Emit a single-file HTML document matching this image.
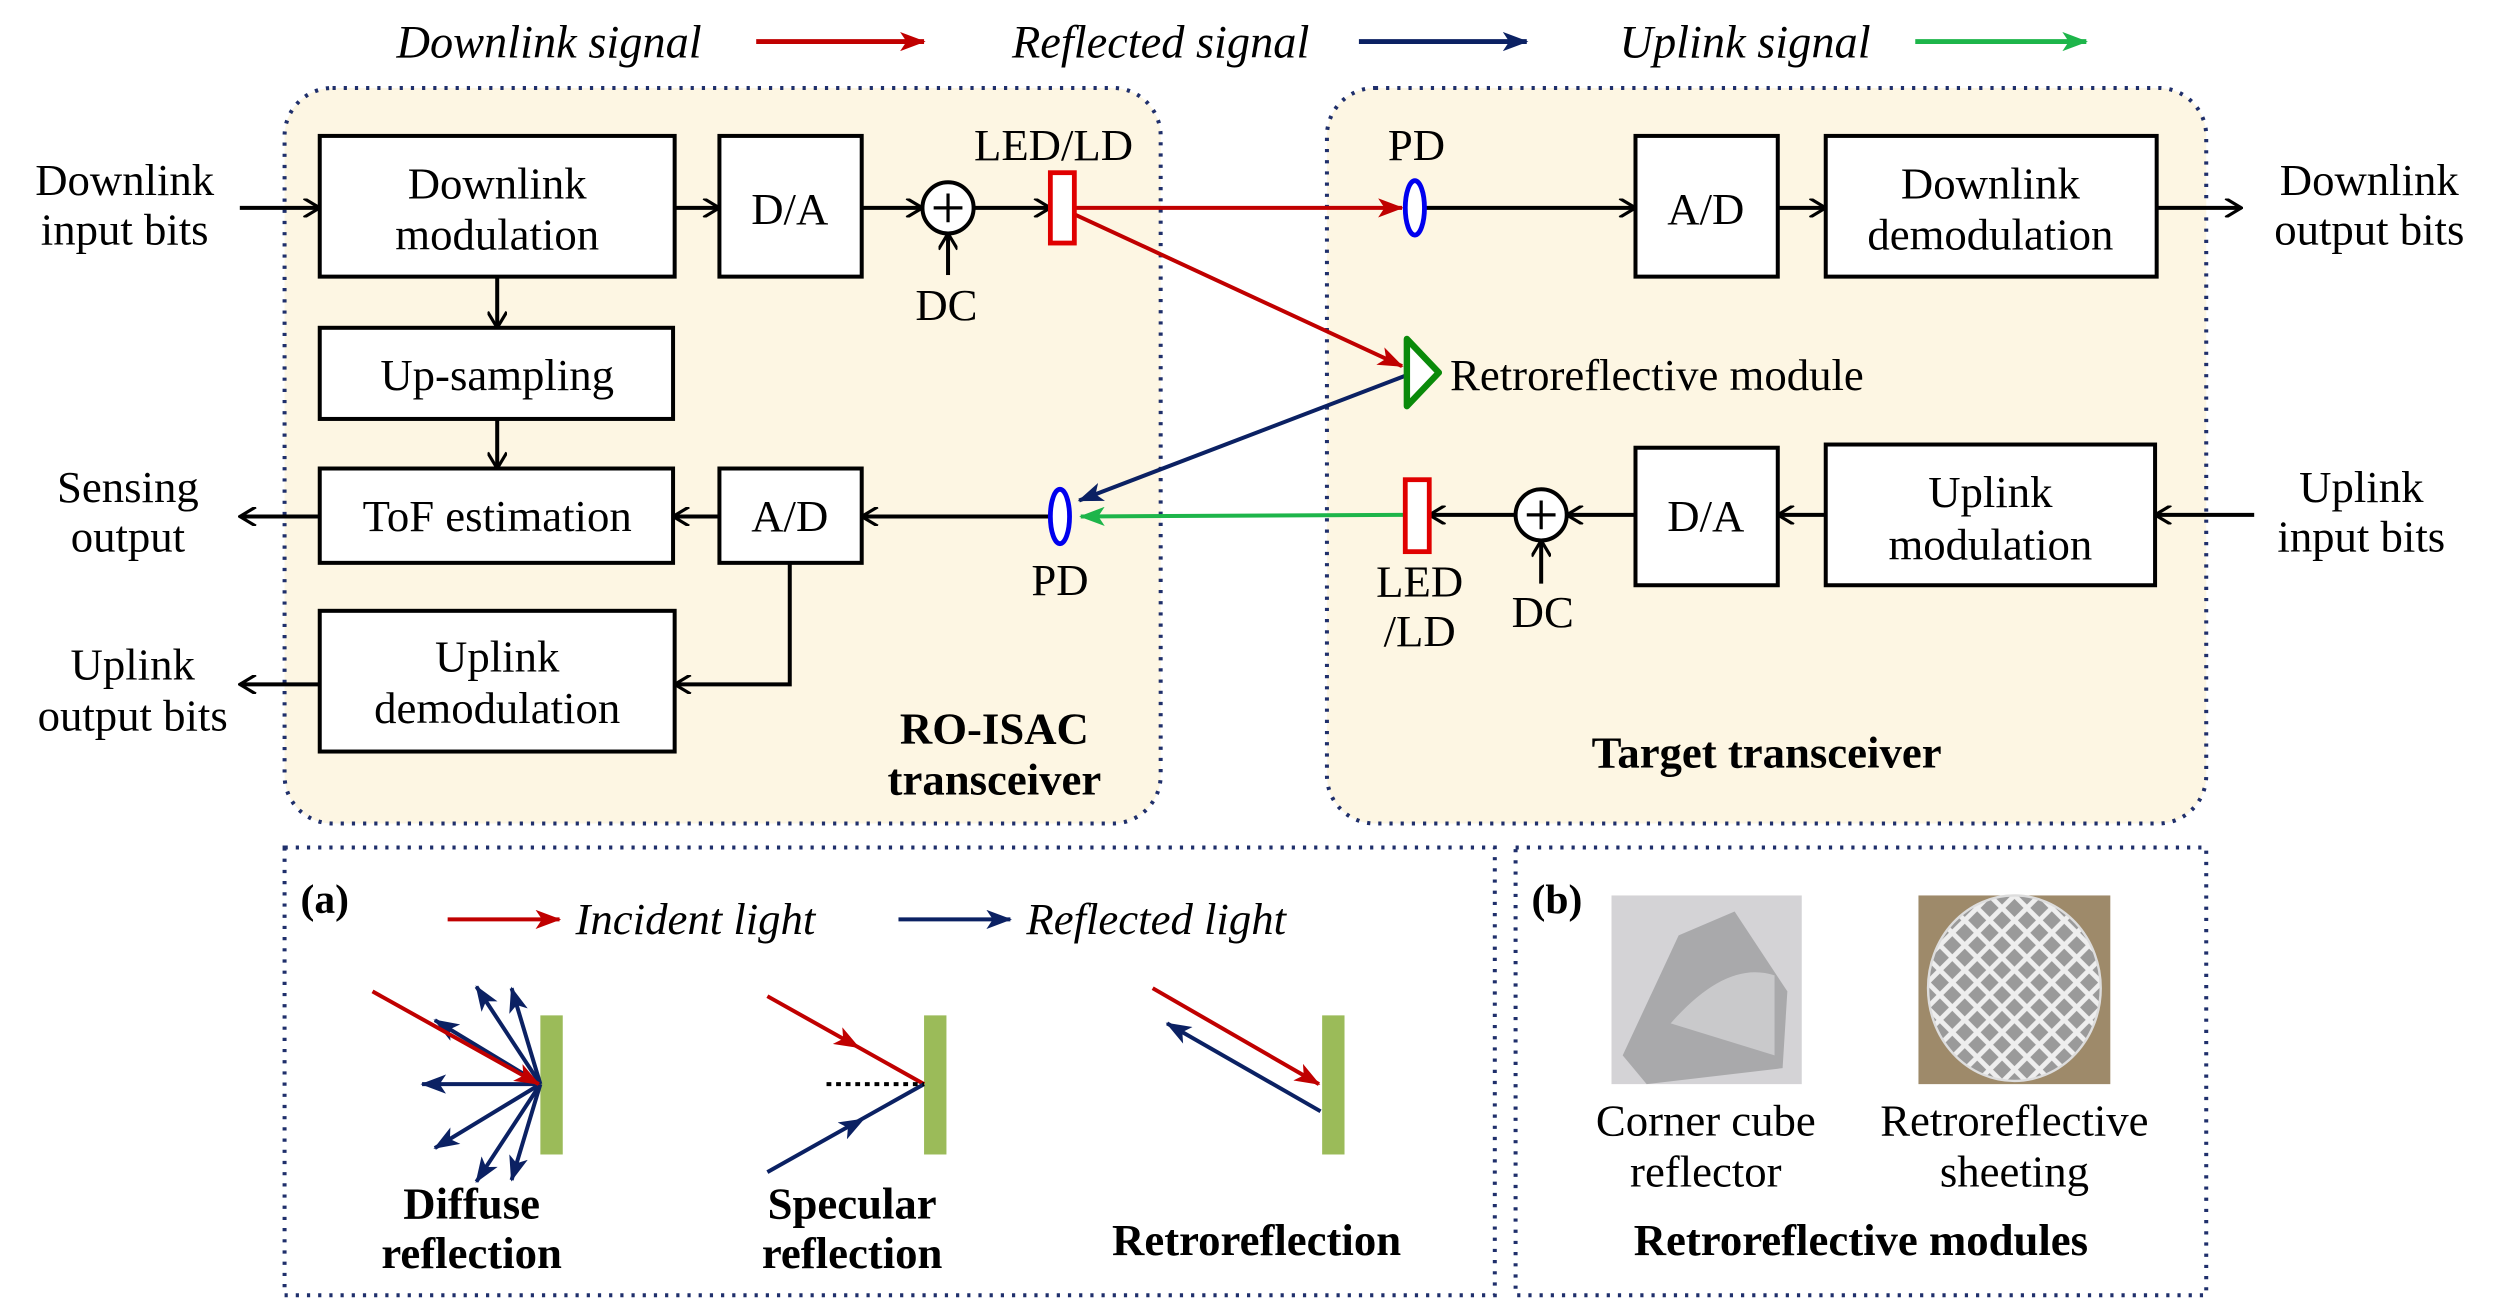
<!DOCTYPE html>
<html><head><meta charset="utf-8"><style>html,body{margin:0;padding:0;background:#fff}svg{display:block}svg text{font-family:"Liberation Serif","Times New Roman",serif}</style></head>
<body>
<svg width="2494" height="1300" viewBox="0 0 1560 813" preserveAspectRatio="none" xmlns="http://www.w3.org/2000/svg" style="font-family:'Liberation Serif',serif">
<defs>
<marker id="ob" viewBox="0 0 12 12" refX="11" refY="6" markerWidth="12" markerHeight="12" markerUnits="userSpaceOnUse" orient="auto"><path d="M1,0 L11,6 L1,12" fill="none" stroke="#000" stroke-width="2"/></marker>
<marker id="ar" viewBox="0 0 16 12" refX="15" refY="6" markerWidth="16" markerHeight="12" markerUnits="userSpaceOnUse" orient="auto"><path d="M0,0 L16,6 L0,12 L4,6z" fill="#c00000"/></marker>
<marker id="an" viewBox="0 0 16 12" refX="15" refY="6" markerWidth="16" markerHeight="12" markerUnits="userSpaceOnUse" orient="auto"><path d="M0,0 L16,6 L0,12 L4,6z" fill="#0b2163"/></marker>
<marker id="ag" viewBox="0 0 16 12" refX="15" refY="6" markerWidth="16" markerHeight="12" markerUnits="userSpaceOnUse" orient="auto"><path d="M0,0 L16,6 L0,12 L4,6z" fill="#1db54a"/></marker>
<pattern id="grid" width="11" height="11" patternUnits="userSpaceOnUse" patternTransform="rotate(45)"><rect width="11" height="11" fill="#eee"/><rect x="1.5" y="1.5" width="8" height="8" fill="#9a9a9a"/></pattern>
</defs>

<g font-style="italic" font-size="29">
<text x="248" y="36">Downlink signal</text>
<text x="633" y="36">Reflected signal</text>
<text x="1013" y="36">Uplink signal</text>
</g>
<line x1="473" y1="26" x2="578" y2="26" stroke="#c00000" stroke-width="3" marker-end="url(#ar)"/>
<line x1="850" y1="26" x2="955" y2="26" stroke="#0b2163" stroke-width="3" marker-end="url(#an)"/>
<line x1="1198" y1="26" x2="1305" y2="26" stroke="#1db54a" stroke-width="3" marker-end="url(#ag)"/>

<g stroke="#1f2f6b" stroke-width="2.5" stroke-dasharray="2 5" fill="#fdf6e3">
<rect x="178" y="55" width="548" height="460" rx="30"/>
<rect x="830" y="55" width="550" height="460" rx="30"/>
<rect x="178" y="530" width="757" height="280" fill="none"/>
<rect x="948" y="530" width="432" height="280" fill="none"/>
</g>

<g fill="#fff" stroke="#000" stroke-width="2.5">
<rect x="200" y="85" width="222" height="88"/>
<rect x="450" y="85" width="89" height="88"/>
<rect x="200" y="205" width="221" height="57"/>
<rect x="200" y="293" width="221" height="59"/>
<rect x="450" y="293" width="89" height="59"/>
<rect x="200" y="382" width="222" height="88"/>
<rect x="1023" y="85" width="89" height="88"/>
<rect x="1142" y="85" width="207" height="88"/>
<rect x="1023" y="280" width="89" height="86"/>
<rect x="1142" y="278" width="206" height="88"/>
<circle cx="593" cy="130" r="16"/>
<circle cx="964" cy="322" r="16"/>
</g>
<g stroke="#000" stroke-width="2"><path d="M584,130 H602 M593,121 V139"/><path d="M955,322 H973 M964,313 V331"/></g>

<g stroke="#000" stroke-width="2.5" fill="none" marker-end="url(#ob)">
<line x1="150" y1="130" x2="200" y2="130"/>
<line x1="422" y1="130" x2="450" y2="130"/>
<line x1="539" y1="130" x2="577" y2="130"/>
<line x1="609" y1="130" x2="657" y2="130"/>
<line x1="593" y1="172" x2="593" y2="146"/>
<line x1="311" y1="173" x2="311" y2="205"/>
<line x1="311" y1="262" x2="311" y2="293"/>
<line x1="450" y1="323" x2="421" y2="323"/>
<line x1="656" y1="323" x2="539" y2="323"/>
<polyline points="494,352 494,428 422,428"/>
<line x1="200" y1="323" x2="150" y2="323"/>
<line x1="200" y1="428" x2="150" y2="428"/>
<line x1="892" y1="130" x2="1023" y2="130"/>
<line x1="1112" y1="130" x2="1142" y2="130"/>
<line x1="1349" y1="130" x2="1402" y2="130"/>
<line x1="1410" y1="322" x2="1348" y2="322"/>
<line x1="1142" y1="322" x2="1112" y2="322"/>
<line x1="1023" y1="322" x2="980" y2="322"/>
<line x1="948" y1="322" x2="894" y2="322"/>
<line x1="964" y1="365" x2="964" y2="338"/>
</g>

<line x1="672" y1="130" x2="877" y2="130" stroke="#c00000" stroke-width="2.5" marker-end="url(#ar)"/>
<line x1="672" y1="134" x2="877" y2="229" stroke="#c00000" stroke-width="2.5" marker-end="url(#ar)"/>
<line x1="879" y1="235" x2="675" y2="313" stroke="#0b2163" stroke-width="2.5" marker-end="url(#an)"/>
<line x1="879" y1="322" x2="676" y2="323" stroke="#1db54a" stroke-width="2.5" marker-end="url(#ag)"/>

<rect x="657" y="108" width="15" height="44" fill="#fff" stroke="#e00000" stroke-width="3"/>
<rect x="879" y="300" width="15" height="45" fill="#fff" stroke="#e00000" stroke-width="3"/>
<ellipse cx="663" cy="323" rx="6" ry="17" fill="#fff" stroke="#0000ee" stroke-width="3"/>
<ellipse cx="885" cy="130" rx="6" ry="17" fill="#fff" stroke="#0000ee" stroke-width="3"/>
<polygon points="880,212 880,254 900,233" fill="#fff" stroke="#0a8a0a" stroke-width="4" stroke-linejoin="round"/>

<g font-size="28" text-anchor="middle">
<text x="78" y="122">Downlink</text><text x="78" y="153">input bits</text>
<text x="80" y="314">Sensing</text><text x="80" y="345">output</text>
<text x="83" y="425">Uplink</text><text x="83" y="457">output bits</text>
<text x="1482" y="122">Downlink</text><text x="1482" y="153">output bits</text>
<text x="1477" y="314">Uplink</text><text x="1477" y="345">input bits</text>
<text x="311" y="124">Downlink</text><text x="311" y="156">modulation</text>
<text x="494" y="140">D/A</text>
<text x="311" y="244">Up-sampling</text>
<text x="311" y="332">ToF estimation</text>
<text x="494" y="332">A/D</text>
<text x="311" y="420">Uplink</text><text x="311" y="452">demodulation</text>
<text x="659" y="100">LED/LD</text>
<text x="592" y="200">DC</text>
<text x="663" y="372">PD</text>
<text x="886" y="100">PD</text>
<text x="1067" y="140">A/D</text>
<text x="1245" y="124">Downlink</text><text x="1245" y="156">demodulation</text>
<text x="1245" y="317">Uplink</text><text x="1245" y="350">modulation</text>
<text x="1067" y="332">D/A</text>
<text x="888" y="373">LED</text><text x="888" y="404">/LD</text>
<text x="965" y="392">DC</text>
<text x="907" y="244" text-anchor="start">Retroreflective module</text>
<g font-weight="bold">
<text x="622" y="465">RO-ISAC</text><text x="622" y="497">transceiver</text>
<text x="1105" y="480">Target transceiver</text>
</g>
</g>

<text x="188" y="571" font-size="26" font-weight="bold">(a)</text>
<line x1="280" y1="575" x2="350" y2="575" stroke="#c00000" stroke-width="2.5" marker-end="url(#ar)"/>
<text x="360" y="584" font-size="28" font-style="italic">Incident light</text>
<line x1="562" y1="575" x2="632" y2="575" stroke="#0b2163" stroke-width="2.5" marker-end="url(#an)"/>
<text x="642" y="584" font-size="28" font-style="italic">Reflected light</text>

<rect x="338" y="635" width="14" height="87" fill="#9bbb59"/>
<rect x="578" y="635" width="14" height="87" fill="#9bbb59"/>
<rect x="827" y="635" width="14" height="87" fill="#9bbb59"/>

<g stroke="#0b2163" stroke-width="2.5" marker-end="url(#an)">
<line x1="338" y1="678" x2="264" y2="678"/>
<line x1="338" y1="678" x2="272" y2="638"/>
<line x1="338" y1="678" x2="272" y2="718"/>
<line x1="338" y1="678" x2="298" y2="617"/>
<line x1="338" y1="678" x2="298" y2="739"/>
<line x1="338" y1="678" x2="320" y2="618"/>
<line x1="338" y1="678" x2="320" y2="738"/>
</g>
<line x1="233" y1="620" x2="337" y2="678" stroke="#c00000" stroke-width="2.5" marker-end="url(#ar)"/>

<line x1="480" y1="623" x2="578" y2="678" stroke="#c00000" stroke-width="2.5"/>
<line x1="480" y1="623" x2="537" y2="655" stroke="#c00000" stroke-width="0.1" marker-end="url(#ar)"/>
<line x1="578" y1="678" x2="480" y2="733" stroke="#0b2163" stroke-width="2.5"/>
<line x1="480" y1="733" x2="540" y2="700" stroke="#0b2163" stroke-width="0.1" marker-end="url(#an)"/>
<line x1="517" y1="678" x2="578" y2="678" stroke="#000" stroke-width="2.5" stroke-dasharray="3 3"/>

<line x1="721" y1="618" x2="825" y2="678" stroke="#c00000" stroke-width="2.5" marker-end="url(#ar)"/>
<line x1="826" y1="695" x2="730" y2="640" stroke="#0b2163" stroke-width="2.5" marker-end="url(#an)"/>

<g font-size="28" font-weight="bold" text-anchor="middle">
<text x="295" y="762">Diffuse</text><text x="295" y="793">reflection</text>
<text x="533" y="762">Specular</text><text x="533" y="793">reflection</text>
<text x="786" y="785">Retroreflection</text>
</g>

<text x="958" y="571" font-size="26" font-weight="bold">(b)</text>
<rect x="1008" y="560" width="119" height="118" fill="#d4d3d6"/>
<path d="M1015,660 L1050,585 L1085,570 L1118,620 L1115,668 L1030,678 Z" fill="#a9a9ab"/>
<path d="M1045,640 Q1080,600 1110,610 L1110,660 Z" fill="#c9c9cb"/>
<rect x="1200" y="560" width="120" height="118" fill="#9e8a6a"/>
<ellipse cx="1260" cy="618" rx="54" ry="58" fill="url(#grid)" stroke="#ddd" stroke-width="1.5"/>
<g font-size="28" text-anchor="middle">
<text x="1067" y="710">Corner cube</text><text x="1067" y="742">reflector</text>
<text x="1260" y="710">Retroreflective</text><text x="1260" y="742">sheeting</text>
</g>
<text x="1164" y="785" font-size="28" font-weight="bold" text-anchor="middle">Retroreflective modules</text>
</svg>
</body></html>
